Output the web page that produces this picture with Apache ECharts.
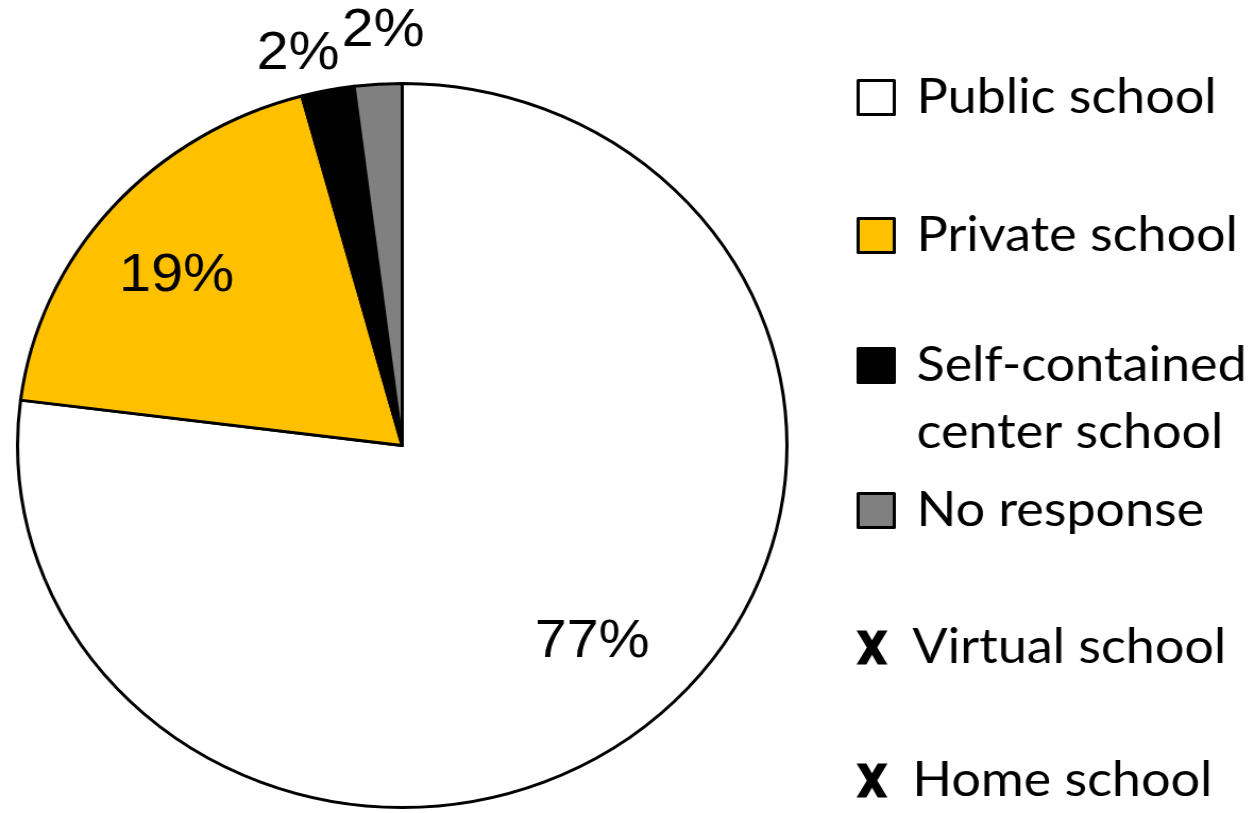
<!DOCTYPE html>
<html>
<head>
<meta charset="utf-8">
<script src="https://cdn.jsdelivr.net/npm/echarts@6/dist/echarts.min.js"></script>
<style>
html, body { margin: 0; padding: 0; background: #fff; overflow: hidden; }
/* the source picture is a little wider than tall, so the whole chart is stretched */
#chart { width: 1181px; height: 813px; transform: scaleX(1.0627); transform-origin: 0 0; }
</style>
</head>
<body>
<div id="chart"></div>
<script>
// data
var categories = ['Public school', 'Private school', 'Self-contained\ncenter school', 'No response', 'Virtual school', 'Home school'];
var shares = [77.0, 18.8, 2.2, 2.0, 0, 0];
var sliceColors = ['#ffffff', '#ffc000', '#000000', '#808080', '#000000', '#000000'];

// layout
var pieCenter = [378.5, 445.5];
var pieRadius = 362;
var labelDist = [0.734, 0.751, 1.115, 1.146, 0, 0];   // label distance, share of radius
var labelTurn = [-0.9, -2.4, -2.9, 1.1, 0, 0];        // degrees off the slice middle
var legendTops = [73, 211, 265, 486, 623, 756];
var xIcon = 'path://M0,0L9.5,0L15,10L20.5,0L30,0L20,17.5L30,35L20.5,35L15,25L9.5,35L0,35L10,17.5Z';

var pieData = categories.map(function (name, i) {
    return {
        name: name,
        value: shares[i],
        itemStyle: shares[i] > 0 ? { color: sliceColors[i] } : { color: sliceColors[i], borderWidth: 0 },
        label: { show: shares[i] > 0 }
    };
});

var legends = categories.map(function (name, i) {
    var isX = shares[i] === 0;
    var twoLines = name.indexOf('\n') >= 0;
    return {
        orient: 'vertical',
        left: 806,
        top: legendTops[i],
        padding: 0,
        selectedMode: false,
        itemWidth: 34,
        itemHeight: 34,
        data: [{
            name: name,
            icon: isX ? xIcon : 'rect',
            itemStyle: isX ? { color: '#000', borderWidth: 0 } : { borderColor: '#000', borderWidth: 3 }
        }],
        // a blank first line keeps the first text line level with the icon
        formatter: function (n) { return twoLines ? '\n' + n : n; },
        textStyle: {
            fontFamily: 'Lato',
            fontSize: 49,
            color: '#000',
            lineHeight: twoLines ? 67 : 34,
            padding: [0, 0, 0, 16]
        }
    };
});

var option = {
    animation: false,
    backgroundColor: '#fff',
    legend: legends,
    series: [
        {
            type: 'pie',
            center: pieCenter,
            radius: pieRadius,
            startAngle: 90,
            clockwise: true,
            avoidLabelOverlap: false,
            itemStyle: { borderColor: '#000', borderWidth: 3 },
            label: {
                position: 'inside',
                fontFamily: 'Liberation Sans, Arial',
                fontSize: 54,
                color: '#000',
                formatter: function (p) { return Math.round(p.percent) + '%'; }
            },
            labelLine: { show: false },
            labelLayout: function (p) {
                var i = p.dataIndex;
                var lx = p.labelRect.x + p.labelRect.width / 2;
                var ly = p.labelRect.y + p.labelRect.height / 2;
                var a = Math.atan2(ly - pieCenter[1], lx - pieCenter[0]) + labelTurn[i] * Math.PI / 180;
                var d = pieRadius * labelDist[i];
                return {
                    x: pieCenter[0] + d * Math.cos(a),
                    y: pieCenter[1] + d * Math.sin(a),
                    align: 'center',
                    verticalAlign: 'middle'
                };
            },
            emphasis: { disabled: true },
            data: pieData
        }
    ]
};

var chart = echarts.init(document.getElementById('chart'));
chart.setOption(option);
</script>
</body>
</html>
